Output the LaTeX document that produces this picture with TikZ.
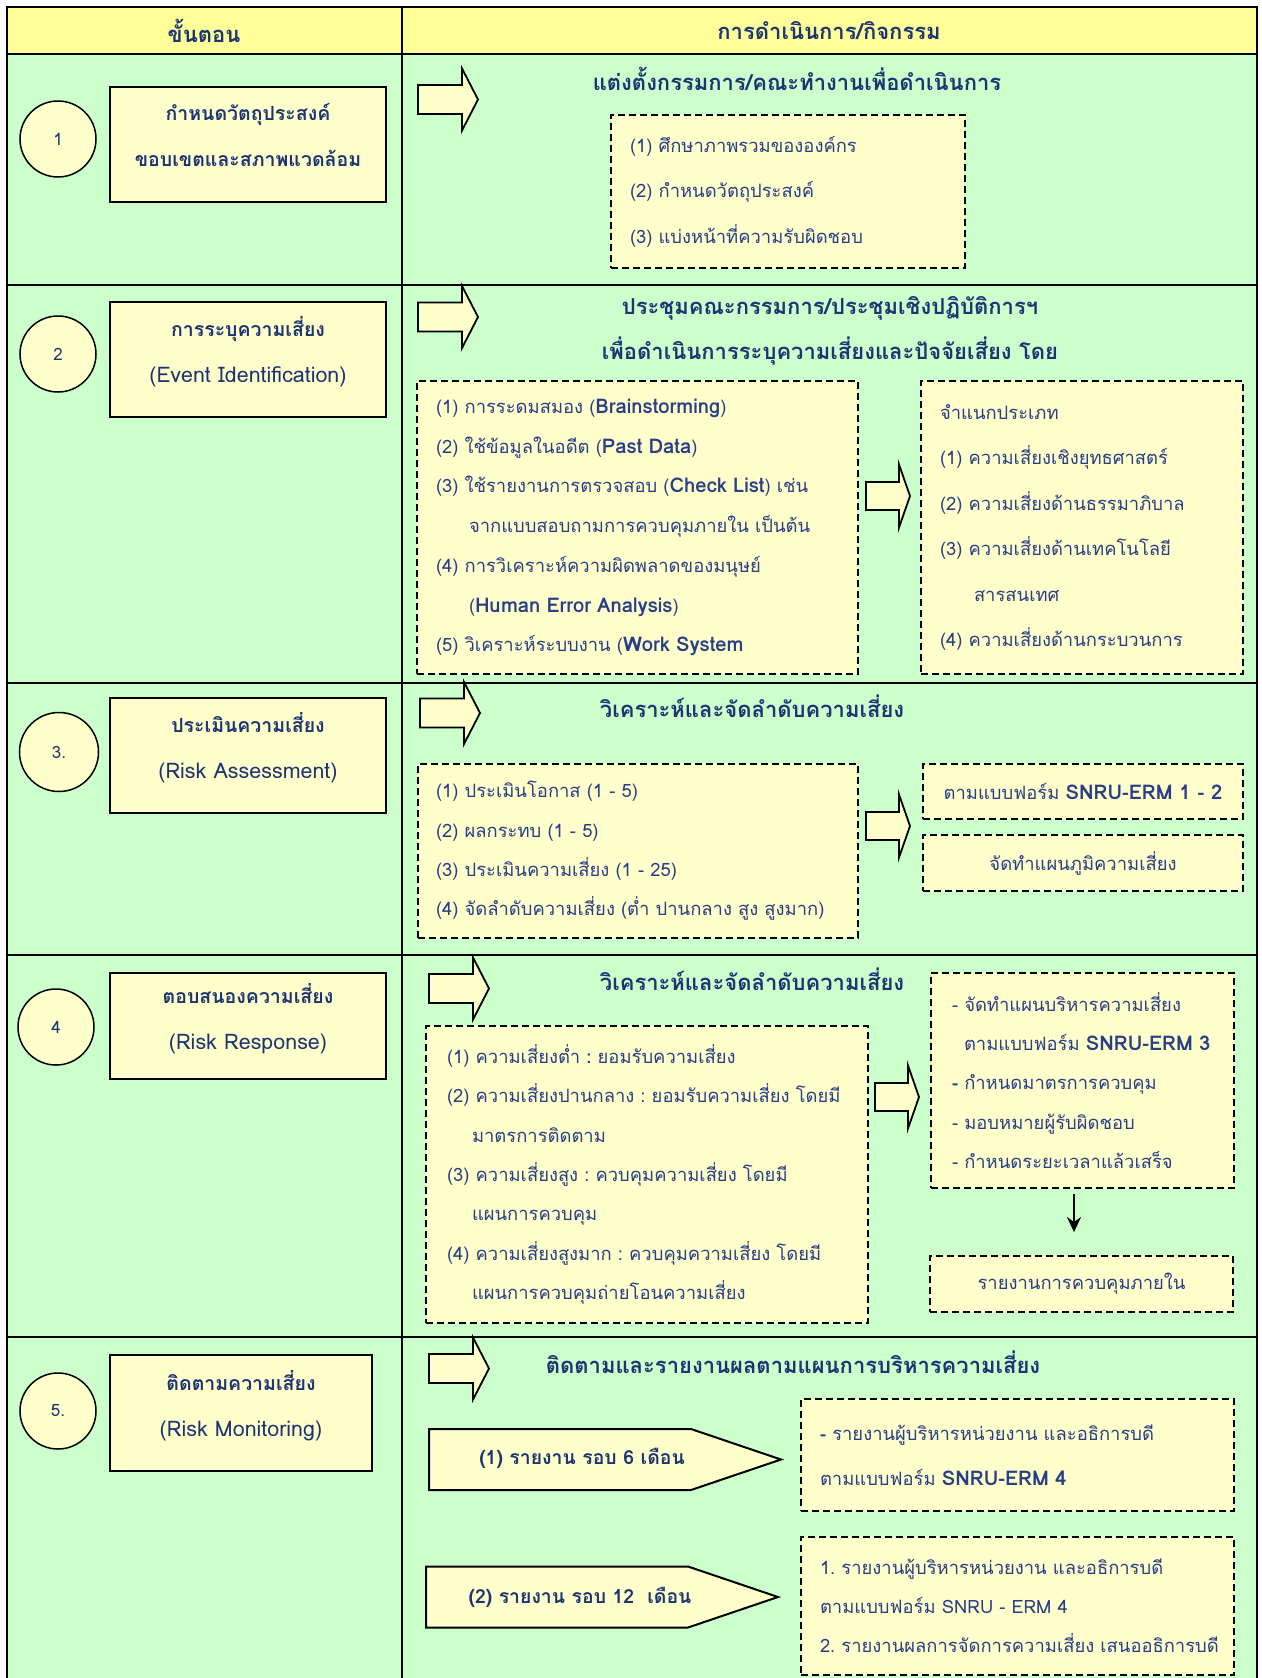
\documentclass[tikz,border=0pt]{standalone}
\usepackage{fontspec}
\setmainfont{Loma}[Script=Thai]
\newfontfamily\enfont{Loma}[Scale=1.1]
\newcommand{\eng}[1]{{\enfont\bfseries #1}}
\usetikzlibrary{arrows.meta}

\definecolor{rowgreen}{RGB}{204,255,204}
\definecolor{headyellow}{RGB}{255,255,153}
\definecolor{paleyellow}{RGB}{255,255,204}
\definecolor{inkblue}{RGB}{28,52,115}
\definecolor{softblue}{RGB}{40,62,135}

\begin{document}
\begin{tikzpicture}[x=1pt, y=-1pt, >={Stealth[length=15pt,width=14pt]},
  stepno/.style={circle, draw, line width=1.5pt, fill=paleyellow, minimum size=76pt, inner sep=0pt, text=inkblue, font=\fontsize{17}{20}\selectfont},
  stagebox/.style={rectangle, draw, line width=2pt, fill=paleyellow, text=inkblue, align=center, inner sep=0pt, font=\fontsize{19.5}{46}\selectfont\bfseries, execute at end node={\rule[-20pt]{0pt}{20pt}}},
  headline/.style={text=inkblue, align=center, inner sep=0pt, font=\fontsize{22}{45}\selectfont\bfseries},
  notebox/.style={rectangle, draw, line width=1.8pt, dash pattern=on 7pt off 4pt, fill=paleyellow, text=softblue, align=left, inner ysep=0pt},
  bigarrow/.pic={\draw[line width=1.8pt, fill=paleyellow] (0,-14.5) -- (44,-14.5) -- (44,-31) -- (60,0) -- (44,31) -- (44,14.5) -- (0,14.5) -- cycle;},
  midarrow/.pic={\draw[line width=1.8pt, fill=paleyellow] (0,-14) -- (33,-14) -- (33,-31.5) -- (44,0) -- (33,31.5) -- (33,14) -- (0,14) -- cycle;},
  reportarrow/.pic={\draw[line width=2pt, fill=paleyellow] (0,-30.5) -- (262,-30.5) -- (352,0) -- (262,30.5) -- (0,30.5) -- cycle;}]
\useasboundingbox (0,0) rectangle (1261,1678);
% table:
\fill[rowgreen] (7,54) rectangle (1257,1678);
\fill[headyellow] (7,7) rectangle (1257,54);
\draw[line width=2pt] (7,1678) -- (7,7) -- (1257,7) -- (1257,1678);
\draw[line width=2pt] (402,7) -- (402,1678);
\foreach \y in {54,285,683,955,1337} \draw[line width=2pt] (7,\y) -- (1257,\y);
\node (hstep) at (204,31) [headline] {ขั้นตอน};
\node (hwork) at (829,31) [headline] {การดำเนินการ/กิจกรรม};

% step 1:
\node (c1) at (58,139) [stepno] {1};
\node (s1) at (248,144.5) [stagebox, minimum width=276pt, minimum height=115pt] {กำหนดวัตถุประสงค์\\ขอบเขตและสภาพแวดล้อม};
\pic at (418,99.5) {bigarrow};
\node (t1) at (797,79) [headline] {แต่งตั้งกรรมการ/คณะทำงานเพื่อดำเนินการ};
\node (n1) at (788,191.5) [notebox, minimum width=354pt, minimum height=153pt, inner xsep=19pt, text width=316pt, font=\fontsize{18.4}{45.5}\selectfont] {(1) ศึกษาภาพรวมขององค์กร\\(2) กำหนดวัตถุประสงค์\\(3) แบ่งหน้าที่ความรับผิดชอบ};

% step 2:
\node (c2) at (58,354) [stepno] {2};
\node (s2) at (248,359.5) [stagebox, minimum width=276pt, minimum height=115pt] {การระบุความเสี่ยง\\{\enfont\mdseries(Event Identification)}};
\pic at (418,317) {bigarrow};
\node (t2) at (830,330.5) [headline] {ประชุมคณะกรรมการ/ประชุมเชิงปฏิบัติการฯ\\เพื่อดำเนินการระบุความเสี่ยงและปัจจัยเสี่ยง โดย};
\node (n2a) at (637.5,527.5) [notebox, minimum width=441pt, minimum height=293pt, inner xsep=19pt, text width=403pt, font=\fontsize{18.4}{39.7}\selectfont] {(1) การระดมสมอง (\eng{Brainstorming})\\(2) ใช้ข้อมูลในอดีต (\eng{Past Data})\\(3)~ใช้รายงานการตรวจสอบ~(\eng{Check~List})~เช่น\\\hspace*{33pt}จากแบบสอบถามการควบคุมภายใน~เป็นต้น\\(4) การวิเคราะห์ความผิดพลาดของมนุษย์\\\hspace*{33pt}(\eng{Human Error Analysis})\\(5) วิเคราะห์ระบบงาน (\eng{Work System}};
\pic at (866,496) {midarrow};
\node (n2b) at (1082,527.5) [notebox, minimum width=322pt, minimum height=293pt, inner xsep=19pt, text width=284pt, font=\fontsize{18.4}{45.4}\selectfont] {จำแนกประเภท\\(1)~ความเสี่ยงเชิงยุทธศาสตร์\\(2)~ความเสี่ยงด้านธรรมาภิบาล\\(3)~ความเสี่ยงด้านเทคโนโลยี\\\hspace*{34pt}สารสนเทศ\\(4)~ความเสี่ยงด้านกระบวนการ};

% step 3:
\node (c3) at (59,752) [stepno, minimum size=79pt] {3.};
\node (s3) at (248,755.5) [stagebox, minimum width=276pt, minimum height=115pt] {ประเมินความเสี่ยง\\{\enfont\mdseries(Risk Assessment)}};
\pic at (420,713) {bigarrow};
\node (t3) at (752,706) [headline] {วิเคราะห์และจัดลำดับความเสี่ยง};
\node (n3a) at (638,851) [notebox, minimum width=440pt, minimum height=174pt, inner xsep=18pt, text width=404pt, font=\fontsize{18.4}{39.3}\selectfont] {(1) ประเมินโอกาส (1 - 5)\\(2) ผลกระทบ (1 - 5)\\(3) ประเมินความเสี่ยง (1 - 25)\\(4)~จัดลำดับความเสี่ยง~(ต่ำ~ปานกลาง~สูง~สูงมาก)};
\pic at (866,826) {midarrow};
\node (n3b) at (1083,791.5) [notebox, align=center, minimum width=320pt, minimum height=55pt, font=\fontsize{18.4}{20}\selectfont] {ตามแบบฟอร์ม \eng{SNRU-ERM 1 - 2}};
\node (n3c) at (1083,863) [notebox, align=center, minimum width=320pt, minimum height=56pt, font=\fontsize{18.4}{20}\selectfont] {จัดทำแผนภูมิความเสี่ยง};

% step 4:
\node (c4) at (56,1027) [stepno] {4};
\node (s4) at (248,1026) [stagebox, minimum width=276pt, minimum height=106pt] {ตอบสนองความเสี่ยง\\{\enfont\mdseries(Risk Response)}};
\pic at (429,988.5) {bigarrow};
\node (t4) at (752,979) [headline] {วิเคราะห์และจัดลำดับความเสี่ยง};
\node (n4a) at (647,1174.5) [notebox, minimum width=442pt, minimum height=297pt, inner xsep=21pt, text width=400pt, font=\fontsize{18.4}{39.3}\selectfont] {(1)~ความเสี่ยงต่ำ~\textbf{:}~ยอมรับความเสี่ยง\\(2)~ความเสี่ยงปานกลาง~:~ยอมรับความเสี่ยง~โดยมี\\\hspace*{25pt}มาตรการติดตาม\\(3)~ความเสี่ยงสูง~:~ควบคุมความเสี่ยง~โดยมี\\\hspace*{25pt}แผนการควบคุม\\(4)~ความเสี่ยงสูงมาก~:~ควบคุมความเสี่ยง~โดยมี\\\hspace*{25pt}แผนการควบคุมถ่ายโอนความเสี่ยง};
\pic at (875,1097) {midarrow};
\node (n4b) at (1082.5,1080.5) [notebox, minimum width=303pt, minimum height=215pt, inner xsep=21pt, text width=261pt, font=\fontsize{18.4}{39.25}\selectfont] {-~จัดทำแผนบริหารความเสี่ยง\\\hspace*{12pt}ตามแบบฟอร์ม~\eng{SNRU-ERM~3}\\\textbf{-}~กำหนดมาตรการควบคุม\\-~มอบหมายผู้รับผิดชอบ\\-~กำหนดระยะเวลาแล้วเสร็จ};
\node (n4c) at (1081.5,1284) [notebox, align=center, minimum width=303pt, minimum height=56pt, font=\fontsize{18.4}{20}\selectfont] {รายงานการควบคุมภายใน};
\draw[->, line width=2.5pt, shorten <=5pt, shorten >=23pt] ([xshift=-8.5pt]n4b.south) -- ([xshift=-8.5pt]n4b.south |- n4c.north);

% step 5:
\node (c5) at (58,1411) [stepno] {5.};
\node (s5) at (241,1413) [stagebox, minimum width=262pt, minimum height=116pt] {ติดตามความเสี่ยง\\{\enfont\mdseries(Risk Monitoring)}};
\pic at (429,1368.5) {bigarrow};
\node (t5) at (793,1362) [headline] {ติดตามและรายงานผลตามแผนการบริหารความเสี่ยง};
\pic at (429,1459.5) {reportarrow};
\node (r6) at (582,1458) [text=inkblue, font=\fontsize{19.4}{22}\selectfont\bfseries] {(1) รายงาน รอบ 6 เดือน};
\pic at (426,1597) {reportarrow};
\node (r12) at (580,1597) [text=inkblue, font=\fontsize{19.4}{22}\selectfont\bfseries] {(2) รายงาน รอบ 12~ เดือน};
\node (n5a) at (1017.5,1455) [notebox, minimum width=433pt, minimum height=112pt, inner xsep=19pt, text width=395pt, font=\fontsize{18.4}{45}\selectfont] {\textbf{-}~รายงานผู้บริหารหน่วยงาน~และอธิการบดี\\ตามแบบฟอร์ม \eng{SNRU-ERM 4}};
\node (n5b) at (1017.5,1606) [notebox, minimum width=433pt, minimum height=138pt, inner xsep=19pt, text width=395pt, font=\fontsize{18.4}{39}\selectfont] {1.~รายงานผู้บริหารหน่วยงาน~และอธิการบดี\\ตามแบบฟอร์ม SNRU - ERM 4\\2.~รายงานผลการจัดการความเสี่ยง~เสนออธิการบดี};
\end{tikzpicture}
\end{document}
